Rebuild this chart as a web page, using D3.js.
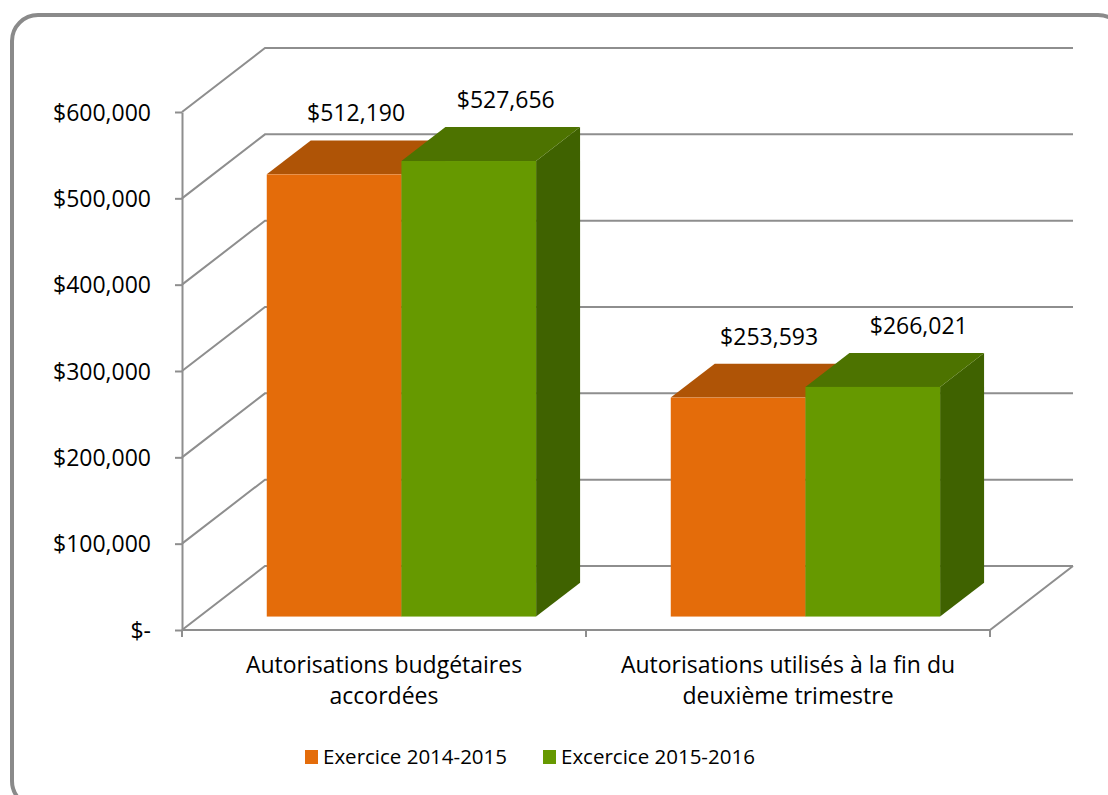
<!DOCTYPE html>
<html>
<head>
<meta charset="UTF-8">
<title>Autorisations budgétaires</title>
<script src="https://d3js.org/d3.v7.min.js"></script>
<style>
    body { margin: 0; background: #fff; }
    text { font-family: "Open Sans", "Noto Sans", sans-serif; fill: #000; }
</style>
</head>
<body>
<script>
    // données
    var categories = [["Autorisations budgétaires", "accordées"],
                      ["Autorisations utilisés à la fin du", "deuxième trimestre"]];
    var series = ["Exercice 2014-2015", "Excercice 2015-2016"];
    var values2014 = [512190, 253593];
    var values2015 = [527656, 266021];
    var yTicks = [0, 100000, 200000, 300000, 400000, 500000, 600000];

    var width = 1108, height = 795;
    var dx = 83, dy = -64;          // profondeur de la scène 3D
    var front = 0.21, back = 0.74;  // position des barres dans la profondeur
    var grid = "#8e8e8e";

    var colors = [
        {front: "#E46C0A", top: "#AF5406", side: "#9A4907"},
        {front: "#669900", top: "#4D7300", side: "#3F6200"}
    ];

    var svg = d3.select("body").append("svg")
        .attr("width", width).attr("height", height);

    // cadre arrondi
    svg.append("rect")
        .attr("x", 12).attr("y", 15)
        .attr("width", 1112).attr("height", 792)
        .attr("rx", 26)
        .attr("fill", "#fff").attr("stroke", "#8a8a8a").attr("stroke-width", 4);

    var y = d3.scaleLinear().domain([0, 600000]).range([630, 112]);
    var x0 = d3.scaleBand().domain(d3.range(categories.length)).range([182, 990]);
    var x1 = d3.scaleBand().domain(d3.range(series.length))
        .range([0, x0.bandwidth()]).paddingOuter(0.5).paddingInner(0);

    // murs et quadrillage
    var g = svg.append("g").attr("stroke", grid).attr("stroke-width", 2).attr("fill", "none");
    yTicks.forEach(function (t) {
        g.append("polyline")
            .attr("points", [[182, y(t)], [182 + dx, y(t) + dy], [990 + dx, y(t) + dy]].join(" "));
    });
    g.append("polyline")
        .attr("points", [[182, y(0)], [990, y(0)], [990 + dx, y(0) + dy]].join(" "));

    // axe vertical
    var yAxis = d3.axisLeft(y).tickValues(yTicks).tickSize(7).tickSizeOuter(0).tickPadding(24)
        .tickFormat(function (d) { return d === 0 ? "$-" : "$" + d3.format(",")(d); });
    var ya = svg.append("g").attr("transform", "translate(182,0)").call(yAxis);
    ya.select(".domain").attr("stroke", grid).attr("stroke-width", 2);
    ya.selectAll(".tick line").attr("stroke", grid).attr("stroke-width", 2);
    ya.selectAll(".tick text").style("font-size", "23px").attr("dy", "0.36em").attr("fill", "#000");

    // graduations de l'axe horizontal
    var bounds = x0.domain().map(function (i) { return x0(i); }).concat([x0.range()[1]]);
    svg.append("g").selectAll("line").data(bounds).join("line")
        .attr("x1", function (d) { return d; }).attr("x2", function (d) { return d; })
        .attr("y1", y(0)).attr("y2", y(0) + 7)
        .attr("stroke", grid).attr("stroke-width", 2);

    // barres 3D
    var bars = [];
    categories.forEach(function (c, ci) {
        [values2014, values2015].forEach(function (vals, si) {
            bars.push({ci: ci, si: si, v: vals[ci]});
        });
    });

    var bg = svg.append("g");
    bars.forEach(function (b) {
        var xl = x0(b.ci) + x1(b.si) + front * dx;
        var xr = xl + x1.bandwidth();
        var yb = y(0) + front * dy;
        var yt = y(b.v) + front * dy;
        var ox = (back - front) * dx, oy = (back - front) * dy;
        var col = colors[b.si];
        bg.append("polygon").attr("fill", col.side)
            .attr("points", [[xr, yt], [xr + ox, yt + oy], [xr + ox, yb + oy], [xr, yb]].join(" "));
        bg.append("polygon").attr("fill", col.top)
            .attr("points", [[xl, yt], [xr, yt], [xr + ox, yt + oy], [xl + ox, yt + oy]].join(" "));
        bg.append("rect").attr("fill", col.front)
            .attr("x", xl).attr("y", yt).attr("width", xr - xl).attr("height", yb - yt);
        b.lx = (xl + xr) / 2 + 22 + b.si * 15 + b.ci * 9;
        b.ly = yt - 53;
    });

    // étiquettes de données
    svg.append("g").selectAll("text").data(bars).join("text")
        .attr("x", function (d) { return d.lx; })
        .attr("y", function (d) { return d.ly; })
        .attr("text-anchor", "middle")
        .style("font-size", "23px")
        .text(function (d) { return "$" + d3.format(",")(d.v); });

    // étiquettes des catégories
    var cl = svg.append("g").selectAll("text").data(categories).join("text")
        .attr("text-anchor", "middle")
        .style("font-size", "23px")
        .attr("transform", function (d, i) { return "translate(" + (x0(i) + x0.bandwidth() / 2) + ",673)"; });
    cl.selectAll("tspan").data(function (d) { return d; }).join("tspan")
        .attr("x", 0).attr("y", function (d, i) { return i * 31; })
        .text(function (d) { return d; });

    // légende
    var legendX = [305, 543];
    var lg = svg.append("g").selectAll("g").data(series).join("g")
        .attr("transform", function (d, i) { return "translate(" + legendX[i] + ",750)"; });
    lg.append("rect").attr("width", 13).attr("height", 14)
        .attr("fill", function (d, i) { return colors[i].front; });
    lg.append("text").attr("x", 18).attr("y", 13.5)
        .style("font-size", "20.5px")
        .text(function (d) { return d; });
</script>
</body>
</html>
